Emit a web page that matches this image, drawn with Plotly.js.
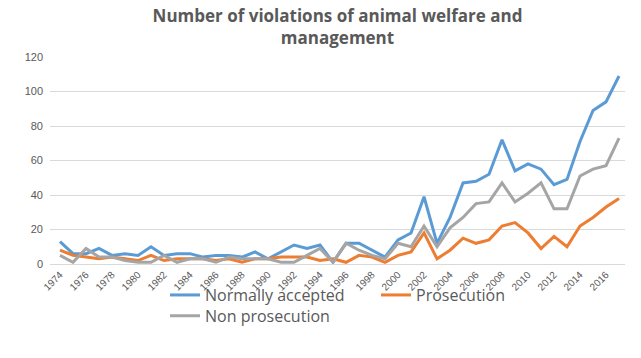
<!DOCTYPE html>
<html>
<head>
<meta charset="utf-8">
<script src="https://cdn.plot.ly/plotly-3.0.1.min.js"></script>
<style>html,body{margin:0;padding:0;background:#fff;}#chart{width:641px;height:358px;}</style>
</head>
<body>
<div id="chart"></div>
<script>
// Years 1974..2017
const years = [1974,1975,1976,1977,1978,1979,1980,1981,1982,1983,
               1984,1985,1986,1987,1988,1989,1990,1991,1992,1993,
               1994,1995,1996,1997,1998,1999,2000,2001,2002,2003,
               2004,2005,2006,2007,2008,2009,2010,2011,2012,2013,
               2014,2015,2016,2017];
const normallyAccepted = [13,6,6,9,5,6,5,10,5,6,
                          6,4,5,5,4,7,3,7,11,9,
                          11,1,12,12,8,4,14,18,39,12,
                          27,47,48,52,72,54,58,55,46,49,
                          71,89,94,109];
const prosecution = [8,5,4,3,4,3,2,5,2,3,
                     3,3,2,3,1,3,3,4,4,4,
                     2,3,1,5,4,1,5,7,18,3,
                     8,15,12,14,22,24,18,9,16,10,
                     22,27,33,38];
const nonProsecution = [5,1,9,4,4,2,1,1,5,1,
                        3,3,1,4,3,3,3,1,1,5,
                        9,1,12,8,5,3,12,10,22,10,
                        21,27,35,36,47,36,41,47,32,32,
                        51,55,57,73];
const seriesNames = ["Normally accepted", "Prosecution", "Non prosecution"];
const tickYears = [1974,1976,1978,1980,1982,1984,1986,1988,1990,1992,1994,1996,1998,2000,2002,2004,2006,2008,2010,2012,2014,2016];
const titleText = "Number of violations of animal welfare and<br>management";

const colors = ["#5B9BD5", "#ED7D31", "#A5A5A5"];

const traces = [
  {x: years, y: normallyAccepted, name: seriesNames[0], type: "scatter", mode: "lines",
   line: {color: colors[0], width: 3}, legend: "legend"},
  {x: years, y: prosecution, name: seriesNames[1], type: "scatter", mode: "lines",
   line: {color: colors[1], width: 3}, legend: "legend"},
  {x: years, y: nonProsecution, name: seriesNames[2], type: "scatter", mode: "lines",
   line: {color: colors[2], width: 3}, legend: "legend2"}
];

const legendFont = {family: "Open Sans, sans-serif", size: 16, color: "#595959"};

const layout = {
  width: 641, height: 358,
  margin: {l: 50, r: 16, t: 57, b: 94},
  paper_bgcolor: "#ffffff", plot_bgcolor: "#ffffff",
  title: {
    text: titleText,
    font: {family: "Open Sans, sans-serif", size: 17, color: "#595959", weight: "bold"},
    x: 0.5, xref: "paper", xanchor: "center",
    y: 0.938, yref: "container", yanchor: "top"
  },
  xaxis: {
    range: [1973.23, 2017.46],
    tickmode: "array", tickvals: tickYears, ticktext: tickYears.map(String),
    tickangle: -45,
    tickfont: {family: "Liberation Sans, Arial, sans-serif", size: 10, color: "#595959"},
    showgrid: false, zeroline: false,
    showline: true, linecolor: "#d9d9d9", linewidth: 1,
    ticks: "", fixedrange: true
  },
  yaxis: {
    range: [0, 120], dtick: 20,
    tickfont: {family: "Liberation Sans, Arial, sans-serif", size: 11, color: "#595959"},
    showgrid: true, gridcolor: "#d9d9d9", gridwidth: 1,
    zeroline: false, showline: false, ticks: "",
    ticklabelstandoff: 6, fixedrange: true
  },
  showlegend: true,
  legend: {
    orientation: "h", x: 0.2, xanchor: "left", y: -0.15, yanchor: "middle",
    font: legendFont, entrywidth: 166, itemwidth: 30, bgcolor: "rgba(0,0,0,0)"
  },
  legend2: {
    orientation: "h", x: 0.2, xanchor: "left", y: -0.25, yanchor: "middle",
    font: legendFont, itemwidth: 30, bgcolor: "rgba(0,0,0,0)"
  }
};

Plotly.newPlot("chart", traces, layout, {displayModeBar: false, staticPlot: true});
</script>
</body>
</html>
